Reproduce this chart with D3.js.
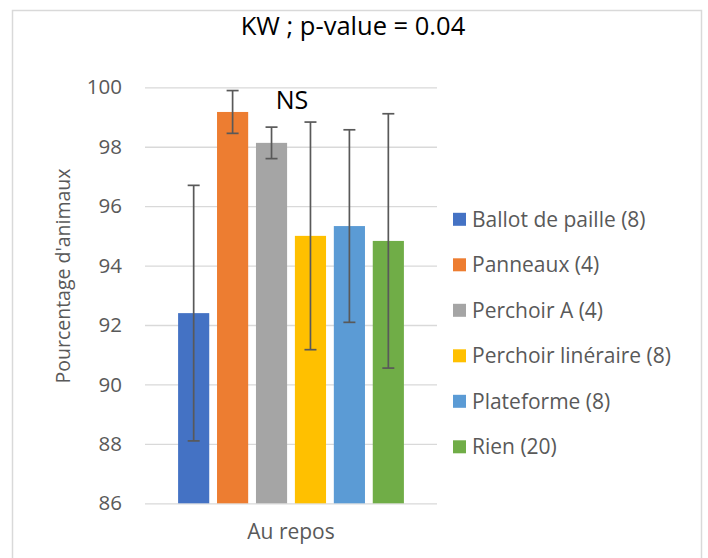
<!DOCTYPE html>
<html>
<head>
<meta charset="utf-8">
<title>KW ; p-value = 0.04</title>
<style>
  body { margin: 0; background: #fff; }
  text { font-family: "Open Sans", "Noto Sans", sans-serif; }
</style>
</head>
<body>
<svg id="chart" width="708" height="558"></svg>
<script src="https://cdnjs.cloudflare.com/ajax/libs/d3/7.8.5/d3.min.js"></script>
<script>
// data
var categories = ["Au repos"];
var series = ["Ballot de paille (8)", "Panneaux (4)", "Perchoir A (4)",
              "Perchoir linéraire (8)", "Plateforme (8)", "Rien (20)"];
var means  = [92.4, 99.17, 98.13, 95.0, 95.33, 94.83];
var errors = [4.3, 0.72, 0.53, 3.83, 3.24, 4.28];
var colors = ["#4472C4", "#ED7D31", "#A5A5A5", "#FFC000", "#5B9BD5", "#70AD47"];
var yTicks = [86, 88, 90, 92, 94, 96, 98, 100];

var svg = d3.select("#chart");
var width = 708, height = 558,
    plot = {left: 145, right: 437, top: 87.3, bottom: 503.3};

var x0 = d3.scaleBand().domain(categories).range([plot.left, plot.right]);
var x1 = d3.scaleBand().domain(series).range([0, x0.bandwidth()])
           .paddingInner(0.2).paddingOuter(0.85);
var y = d3.scaleLinear().domain([86, 100]).range([plot.bottom, plot.top]);
var color = d3.scaleOrdinal().domain(series).range(colors);

var rows = series.map(function (s, i) {
  return {name: s, cat: categories[0], value: means[i], err: errors[i]};
});

// chart border
svg.append("rect")
  .attr("x", 12.5).attr("y", 10.5)
  .attr("width", 689).attr("height", 570)
  .attr("fill", "#fff").attr("stroke", "#d9d9d9").attr("stroke-width", 1.5);

// title
svg.append("text")
  .attr("x", 353).attr("y", 35)
  .attr("text-anchor", "middle")
  .attr("font-size", 25.5).attr("fill", "#000")
  .text("KW ; p-value = 0.04");

// y axis with gridlines
var yAxis = svg.append("g")
  .attr("transform", "translate(" + plot.left + ",0)")
  .call(d3.axisLeft(y).tickValues(yTicks).tickSize(-(plot.right - plot.left)).tickPadding(23));
yAxis.select(".domain").remove();
yAxis.selectAll(".tick line").attr("stroke", "#d9d9d9").attr("stroke-width", 1.3);
yAxis.selectAll(".tick text")
  .attr("font-family", "Open Sans").attr("font-size", 20.5).attr("fill", "#595959");

// x axis (category label only)
var xAxis = svg.append("g")
  .attr("transform", "translate(0," + plot.bottom + ")")
  .call(d3.axisBottom(x0).tickSize(0).tickPadding(21));
xAxis.select(".domain").remove();
xAxis.selectAll(".tick text")
  .attr("font-family", "Open Sans").attr("font-size", 21).attr("fill", "#595959");

// y axis title
svg.append("text")
  .attr("transform", "translate(70,276) rotate(-90)")
  .attr("text-anchor", "middle")
  .attr("font-size", 19.5).attr("fill", "#595959")
  .text("Pourcentage d'animaux");

// bars
var group = svg.append("g");
group.selectAll("rect").data(rows).enter()
  .append("rect")
  .attr("x", function (d) { return x0(d.cat) + x1(d.name); })
  .attr("y", function (d) { return y(d.value); })
  .attr("width", x1.bandwidth())
  .attr("height", function (d) { return y(86) - y(d.value); })
  .attr("fill", function (d) { return color(d.name); });

// error bars
var cap = 6;
var eb = svg.append("g").attr("stroke", "#595959").attr("stroke-width", 1.7);
rows.forEach(function (d) {
  var cx = x0(d.cat) + x1(d.name) + x1.bandwidth() / 2;
  eb.append("line").attr("x1", cx).attr("x2", cx)
    .attr("y1", y(d.value + d.err)).attr("y2", y(d.value - d.err));
  [d.value + d.err, d.value - d.err].forEach(function (v) {
    eb.append("line").attr("x1", cx - cap).attr("x2", cx + cap)
      .attr("y1", y(v)).attr("y2", y(v));
  });
});

// NS annotation
svg.append("text")
  .attr("x", x0(categories[0]) + x0.bandwidth() / 2 + 1).attr("y", 109)
  .attr("text-anchor", "middle")
  .attr("font-size", 25).attr("fill", "#000")
  .text("NS");

// legend
var legend = svg.append("g").selectAll("g").data(series).enter()
  .append("g")
  .attr("transform", function (d, i) { return "translate(453," + (219.3 + i * 45.5) + ")"; });
legend.append("rect")
  .attr("x", 0).attr("y", -6.5).attr("width", 13).attr("height", 13)
  .attr("fill", function (d) { return color(d); });
legend.append("text")
  .attr("x", 19).attr("y", 0).attr("dy", "0.35em")
  .attr("font-size", 21).attr("fill", "#595959")
  .text(function (d) { return d; });
</script>
</body>
</html>
